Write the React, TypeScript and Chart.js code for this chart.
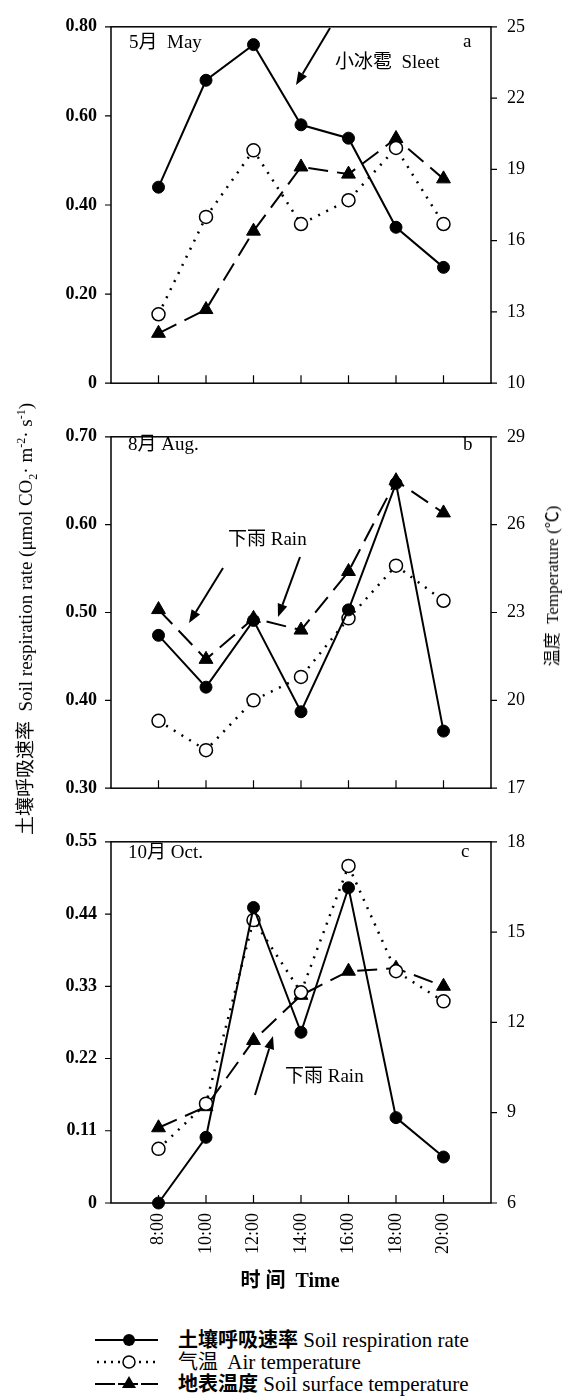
import React, { useEffect, useRef } from "react";
import { Chart, registerables } from "chart.js";

Chart.register(...registerables);

// ---------- data ----------
const hours = [8, 10, 12, 14, 16, 18, 20];
const timeLabels = ["8:00", "10:00", "12:00", "14:00", "16:00", "18:00", "20:00"];

const mayRespiration = [0.44, 0.68, 0.76, 0.58, 0.55, 0.35, 0.26];
const mayAirTemp = [12.9, 17.0, 19.8, 16.7, 17.7, 19.9, 16.7];
const maySurfaceTemp = [12.1, 13.1, 16.4, 19.1, 18.8, 20.3, 18.6];

const augRespiration = [0.474, 0.415, 0.491, 0.387, 0.503, 0.647, 0.365];
const augAirTemp = [19.3, 18.3, 20.0, 20.8, 22.8, 24.6, 23.4];
const augSurfaceTemp = [23.1, 21.4, 22.8, 22.4, 24.4, 27.5, 26.4];

const octRespiration = [0.0, 0.10, 0.45, 0.26, 0.48, 0.13, 0.07];
const octAirTemp = [7.8, 9.3, 15.4, 13.0, 17.2, 13.7, 12.7];
const octSurfaceTemp = [8.5, 9.2, 11.4, 12.9, 13.7, 13.8, 13.2];

const mayRespTicks = [0, 0.2, 0.4, 0.6, 0.8];
const mayTempTicks = [10, 13, 16, 19, 22, 25];
const augRespTicks = [0.3, 0.4, 0.5, 0.6, 0.7];
const augTempTicks = [17, 20, 23, 26, 29];
const octRespTicks = [0, 0.11, 0.22, 0.33, 0.44, 0.55];
const octTempTicks = [6, 9, 12, 15, 18];

const seriesNames = ["土壤呼吸速率 Soil respiration rate", "气温 Air temperature", "地表温度 Soil surface temperature"];

// ---------- layout ----------
const PAGE_W = 566;
const LEFT_W = 111;
const RIGHT_W = 75;
const FONT = '"Liberation Serif", "Noto Sans CJK SC", serif';

type Ann = {
  texts: { t: string; x: number; y: number }[];
  arrows: { from: [number, number]; to: [number, number] }[];
};

type PanelDef = {
  top: number;
  height: number;
  padTop: number;
  xHeight: number;
  showX: boolean;
  resp: number[];
  air: number[];
  surf: number[];
  respTicks: number[];
  tempTicks: number[];
  ann: Ann;
};

const panels: PanelDef[] = [
  {
    top: 0, height: 410, padTop: 20, xHeight: 15, showX: false,
    resp: mayRespiration, air: mayAirTemp, surf: maySurfaceTemp,
    respTicks: mayRespTicks, tempTicks: mayTempTicks,
    ann: {
      texts: [
        { t: "5月  May", x: 129, y: 43 },
        { t: "a", x: 463, y: 42 },
        { t: "小冰雹  Sleet", x: 335, y: 63 },
      ],
      arrows: [{ from: [330, 28], to: [296, 85] }],
    },
  },
  {
    top: 410, height: 405, padTop: 12, xHeight: 17, showX: false,
    resp: augRespiration, air: augAirTemp, surf: augSurfaceTemp,
    respTicks: augRespTicks, tempTicks: augTempTicks,
    ann: {
      texts: [
        { t: "8月 Aug.", x: 128, y: 445 },
        { t: "b", x: 463, y: 445 },
        { t: "下雨 Rain", x: 228, y: 540 },
      ],
      arrows: [
        { from: [223, 568], to: [189, 623] },
        { from: [300, 557], to: [278, 617] },
      ],
    },
  },
  {
    top: 815, height: 470, padTop: 11, xHeight: 82, showX: true,
    resp: octRespiration, air: octAirTemp, surf: octSurfaceTemp,
    respTicks: octRespTicks, tempTicks: octTempTicks,
    ann: {
      texts: [
        { t: "10月 Oct.", x: 128, y: 853 },
        { t: "c", x: 461, y: 852 },
        { t: "下雨 Rain", x: 285, y: 1077 },
      ],
      arrows: [{ from: [255, 1095], to: [273, 1036] }],
    },
  },
];

const framePlugin = {
  id: "frame",
  beforeDatasetsDraw(chart: any) {
    const { ctx, chartArea: a, scales } = chart;
    ctx.save();
    ctx.strokeStyle = "#000";
    ctx.lineWidth = 1.5;
    ctx.setLineDash([]);
    ctx.strokeRect(a.left, a.top, a.right - a.left, a.bottom - a.top);
    ctx.lineWidth = 1.2;
    ctx.beginPath();
    scales.x.ticks.forEach((t: any) => {
      const px = scales.x.getPixelForValue(t.value);
      ctx.moveTo(px, a.bottom);
      ctx.lineTo(px, a.bottom - 8);
    });
    scales.yL.ticks.forEach((t: any) => {
      const py = scales.yL.getPixelForValue(t.value);
      ctx.moveTo(a.left - 6, py);
      ctx.lineTo(a.left, py);
    });
    scales.yR.ticks.forEach((t: any) => {
      const py = scales.yR.getPixelForValue(t.value);
      ctx.moveTo(a.right, py);
      ctx.lineTo(a.right + 6, py);
    });
    ctx.stroke();
    ctx.restore();
  },
  afterDraw(chart: any, _args: any, opts: any) {
    const { ctx } = chart;
    const ann: Ann = opts.ann;
    const off: number = opts.offset;
    if (!ann) return;
    ctx.save();
    ctx.fillStyle = "#000";
    ctx.strokeStyle = "#000";
    ctx.font = `19px ${FONT}`;
    ctx.textBaseline = "middle";
    ctx.textAlign = "left";
    ann.texts.forEach((t) => ctx.fillText(t.t, t.x, t.y - off));
    ann.arrows.forEach((ar) => {
      const [x1, y1] = [ar.from[0], ar.from[1] - off];
      const [x2, y2] = [ar.to[0], ar.to[1] - off];
      const ang = Math.atan2(y2 - y1, x2 - x1);
      const hl = 13, hw = 5;
      const bx = x2 - Math.cos(ang) * hl;
      const by = y2 - Math.sin(ang) * hl;
      ctx.lineWidth = 2;
      ctx.beginPath();
      ctx.moveTo(x1, y1);
      ctx.lineTo(bx, by);
      ctx.stroke();
      ctx.beginPath();
      ctx.moveTo(x2, y2);
      ctx.lineTo(bx + Math.sin(ang) * hw, by - Math.cos(ang) * hw);
      ctx.lineTo(bx - Math.sin(ang) * hw, by + Math.cos(ang) * hw);
      ctx.closePath();
      ctx.fill();
    });
    ctx.restore();
  },
};

const pts = (arr: number[]) => hours.map((h, i) => ({ x: h, y: arr[i] }));
const fmtResp = (v: number) => (v === 0 ? "0" : v.toFixed(2));

function makeConfig(p: PanelDef): any {
  return {
    type: "line",
    data: {
      datasets: [
        {
          label: seriesNames[0],
          data: pts(p.resp),
          yAxisID: "yL",
          borderColor: "#000",
          borderWidth: 2,
          pointStyle: "circle",
          pointRadius: 6,
          pointBackgroundColor: "#000",
          pointBorderColor: "#000",
          pointBorderWidth: 1,
          tension: 0,
          fill: false,
          clip: false,
        },
        {
          label: seriesNames[1],
          data: pts(p.air),
          yAxisID: "yR",
          borderColor: "#000",
          borderWidth: 2.5,
          borderDash: [2, 7],
          pointStyle: "circle",
          pointRadius: 6.5,
          pointBackgroundColor: "#fff",
          pointBorderColor: "#000",
          pointBorderWidth: 1.5,
          tension: 0,
          fill: false,
          clip: false,
        },
        {
          label: seriesNames[2],
          data: pts(p.surf),
          yAxisID: "yR",
          borderColor: "#000",
          borderWidth: 2,
          borderDash: [20, 9],
          pointStyle: "triangle",
          pointRadius: 8,
          pointBackgroundColor: "#000",
          pointBorderColor: "#000",
          pointBorderWidth: 1,
          tension: 0,
          fill: false,
          clip: false,
        },
      ],
    },
    options: {
      responsive: false,
      animation: false,
      events: [],
      layout: { padding: { top: p.padTop, left: 0, right: 0, bottom: 0 } },
      plugins: {
        legend: { display: false },
        tooltip: { enabled: false },
        frame: { ann: p.ann, offset: p.top },
      },
      scales: {
        x: {
          type: "linear",
          min: 6,
          max: 22,
          afterBuildTicks: (s: any) => {
            s.ticks = hours.map((v) => ({ value: v }));
          },
          ticks: {
            display: p.showX,
            autoSkip: false,
            minRotation: 90,
            maxRotation: 90,
            padding: 10,
            color: "#000",
            font: { family: FONT, size: 18 },
            callback: (_v: any, i: number) => timeLabels[i],
          },
          grid: { display: false, drawTicks: false },
          border: { display: false },
          afterFit: (s: any) => {
            s.height = p.xHeight;
          },
        },
        yL: {
          type: "linear",
          position: "left",
          min: p.respTicks[0],
          max: p.respTicks[p.respTicks.length - 1],
          afterBuildTicks: (s: any) => {
            s.ticks = p.respTicks.map((v) => ({ value: v }));
          },
          ticks: {
            padding: 14,
            color: "#000",
            font: { family: FONT, size: 18, weight: "bold" },
            callback: (v: any) => fmtResp(Number(v)),
          },
          grid: { display: false, drawTicks: false },
          border: { display: false },
          afterFit: (s: any) => {
            s.width = LEFT_W;
          },
        },
        yR: {
          type: "linear",
          position: "right",
          min: p.tempTicks[0],
          max: p.tempTicks[p.tempTicks.length - 1],
          afterBuildTicks: (s: any) => {
            s.ticks = p.tempTicks.map((v) => ({ value: v }));
          },
          ticks: {
            padding: 16,
            color: "#000",
            font: { family: FONT, size: 18 },
            callback: (v: any) => String(v),
          },
          grid: { display: false, drawTicks: false },
          border: { display: false },
          afterFit: (s: any) => {
            s.width = RIGHT_W;
          },
        },
      },
    },
    plugins: [framePlugin],
  };
}

function PanelChart({ p }: { p: PanelDef }) {
  const ref = useRef<HTMLCanvasElement | null>(null);
  useEffect(() => {
    if (!ref.current) return;
    const chart = new Chart(ref.current, makeConfig(p));
    return () => chart.destroy();
  }, [p]);
  return (
    <canvas
      ref={ref}
      width={PAGE_W}
      height={p.height}
      style={{ position: "absolute", left: 0, top: p.top, width: PAGE_W, height: p.height }}
    />
  );
}

function LegendSample({ kind }: { kind: number }) {
  return (
    <svg width={63} height={20} style={{ display: "block" }}>
      {kind === 0 && <line x1={0} y1={10} x2={63} y2={10} stroke="#000" strokeWidth={2} />}
      {kind === 1 && (
        <line x1={2} y1={10} x2={63} y2={10} stroke="#000" strokeWidth={2.5} strokeDasharray="2 5" />
      )}
      {kind === 2 && <line x1={0} y1={10} x2={63} y2={10} stroke="#000" strokeWidth={2} strokeDasharray="20 3" />}
      {kind === 0 && <circle cx={34} cy={10} r={6} fill="#000" />}
      {kind === 1 && <circle cx={34} cy={10} r={6} fill="#fff" stroke="#000" strokeWidth={1.5} />}
      {kind === 2 && <polygon points="34,2 41,14 27,14" fill="#000" />}
    </svg>
  );
}

export default function App() {
  const legendRows = [
    { cn: "土壤呼吸速率", en: "Soil respiration rate", y: 1340, bold: true },
    { cn: "气温", en: " Air temperature", y: 1362, bold: false },
    { cn: "地表温度", en: "Soil surface temperature", y: 1384, bold: true },
  ];
  return (
    <div
      style={{
        position: "absolute",
        left: 0,
        top: 0,
        width: PAGE_W,
        height: 1399,
        background: "#fff",
        fontFamily: FONT,
        color: "#000",
        overflow: "hidden",
      }}
    >
      {panels.map((p, i) => (
        <PanelChart key={i} p={p} />
      ))}
      <div
        style={{
          position: "absolute",
          left: 27,
          top: 619,
          transform: "translate(-50%, -50%) rotate(-90deg)",
          whiteSpace: "pre",
          fontSize: 19,
          lineHeight: "22px",
        }}
      >
        {"土壤呼吸速率  Soil respiration rate (μmol CO"}
        <sub style={{ fontSize: 12 }}>2</sub>
        {"· m"}
        <sup style={{ fontSize: 12 }}>-2</sup>
        {"· s"}
        <sup style={{ fontSize: 12 }}>-1</sup>
        {")"}
      </div>
      <div
        style={{
          position: "absolute",
          left: 553,
          top: 586,
          transform: "translate(-50%, -50%) rotate(-90deg)",
          whiteSpace: "pre",
          fontSize: 17,
          lineHeight: "20px",
        }}
      >
        {"温度  Temperature (℃)"}
      </div>
      <div
        style={{
          position: "absolute",
          left: 290,
          top: 1280,
          transform: "translate(-50%, -50%)",
          whiteSpace: "pre",
          fontSize: 20,
          fontWeight: "bold",
          lineHeight: "22px",
        }}
      >
        {"时 间  Time"}
      </div>
      {legendRows.map((r, i) => (
        <div
          key={i}
          style={{
            position: "absolute",
            left: 95,
            top: r.y - 11,
            height: 22,
            display: "flex",
            alignItems: "center",
            whiteSpace: "pre",
            fontSize: 21,
            lineHeight: "22px",
          }}
        >
          <LegendSample kind={i} />
          <span style={{ marginLeft: 20, fontWeight: r.bold ? "bold" : "normal", fontSize: 20 }}>{r.cn}</span>
          <span>{" " + r.en}</span>
        </div>
      ))}
    </div>
  );
}
